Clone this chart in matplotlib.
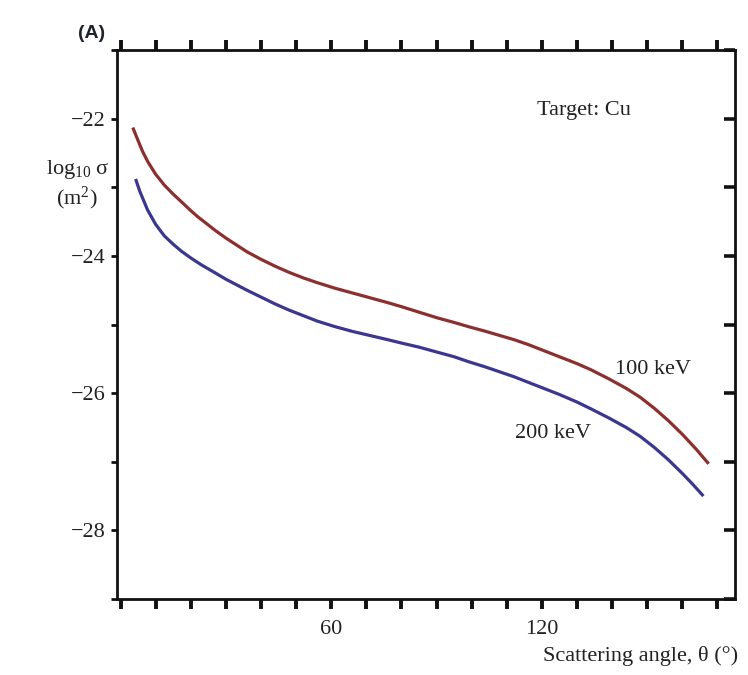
import matplotlib
matplotlib.use("Agg")
import matplotlib.pyplot as plt
from matplotlib.ticker import MultipleLocator, FixedLocator

plt.rcParams['font.family'] = ['Liberation Serif', 'DejaVu Serif']
plt.rcParams['mathtext.fontset'] = 'custom'
plt.rcParams['mathtext.rm'] = 'Liberation Serif'
plt.rcParams['mathtext.it'] = 'Liberation Serif:italic'

# Data (scattering angle in degrees, log10 sigma in m^2)
theta_100 = [3.5, 5.0, 6.3, 7.8, 10, 12.5, 15, 17.3, 20, 22, 25, 27, 30, 33, 36, 40, 44, 48,
             52, 56, 61, 66, 71, 76, 80, 85, 90, 95, 99, 104, 108, 112, 116, 120, 125,
             130, 134, 139, 144, 148, 152, 156, 160, 164, 167.5]
log_sigma_100 = [-22.13, -22.32, -22.48, -22.63, -22.81, -22.97, -23.10, -23.21, -23.34,
                 -23.43, -23.55, -23.63, -23.74, -23.84, -23.94, -24.05, -24.15, -24.24,
                 -24.32, -24.39, -24.47, -24.54, -24.61, -24.68, -24.74, -24.82, -24.90,
                 -24.97, -25.03, -25.10, -25.16, -25.22, -25.29, -25.37, -25.47, -25.57,
                 -25.66, -25.79, -25.93, -26.06, -26.22, -26.40, -26.60, -26.82, -27.03]
theta_200 = [4.3, 5.5, 7.7, 10, 12.5, 15, 17.3, 20, 23, 26.7, 30, 33, 36, 40, 44, 48, 52,
             56, 61, 66, 71, 76, 80, 85, 90, 95, 99, 104, 108, 112, 116, 120, 125, 130,
             134, 139, 144, 148, 152, 156, 160, 163, 166]
log_sigma_200 = [-22.88, -23.06, -23.33, -23.54, -23.71, -23.83, -23.93, -24.03, -24.13,
                 -24.24, -24.34, -24.42, -24.50, -24.60, -24.70, -24.79, -24.87, -24.95,
                 -25.03, -25.10, -25.16, -25.22, -25.27, -25.33, -25.40, -25.47, -25.54,
                 -25.62, -25.69, -25.76, -25.84, -25.92, -26.02, -26.13, -26.23, -26.36,
                 -26.50, -26.63, -26.79, -26.97, -27.17, -27.33, -27.50]
x_ticks_labeled = [60, 120]
y_ticks_labeled = [-22, -24, -26, -28]
y_tick_labels = ['\u221222', '\u221224', '\u221226', '\u221228']

W, H = 748, 675
fig = plt.figure(figsize=(W / 100, H / 100), dpi=100)

def fx(px):
    return px / W

def fy(py):
    return 1 - py / H

ax = fig.add_axes([fx(117), fy(599), fx(735) - fx(117), fy(50) - fy(599)])

red = '#8b2f2f'
blue = '#3b3791'
ax.plot(theta_100, log_sigma_100, color=red, lw=2.3, solid_capstyle='butt',
        solid_joinstyle='round')
ax.plot(theta_200, log_sigma_200, color=blue, lw=2.3, solid_capstyle='butt',
        solid_joinstyle='round')

ax.set_xlim(-1, 175)
ax.set_ylim(-29, -21)

for s in ax.spines.values():
    s.set_linewidth(2.0)
    s.set_color('#111111')

# bottom/top ticks every 10 degrees
ax.xaxis.set_major_locator(FixedLocator(x_ticks_labeled))
ax.xaxis.set_minor_locator(MultipleLocator(10))
ax.tick_params(axis='x', which='both', direction='out', top=True, bottom=True,
               length=7, width=2.8, color='#111111')
ax.tick_params(axis='x', which='major', labelsize=16, pad=8, labelcolor='#222222')

ax.yaxis.set_major_locator(FixedLocator(y_ticks_labeled))
ax.yaxis.set_minor_locator(MultipleLocator(1))
ax.tick_params(axis='y', which='both', left=True, right=False, direction='out',
               length=4, width=2.0, color='#111111')
ax.tick_params(axis='y', which='major', labelsize=16, pad=4, labelcolor='#222222')
ax.set_yticklabels(y_tick_labels)

# right side inward ticks
ax2 = ax.twinx()
ax2.set_ylim(ax.get_ylim())
ax2.yaxis.set_major_locator(MultipleLocator(1))
ax2.tick_params(axis='y', which='both', direction='in', length=8, width=2.6,
                color='#111111', labelright=False)
for s in ax2.spines.values():
    s.set_visible(False)

# Annotations
fig.text(fx(584), fy(110), 'Target: Cu', fontsize=16, ha='center', va='center', color='#222222')
fig.text(fx(653), fy(370), '100 keV', fontsize=16, ha='center', va='center', color='#222222')
fig.text(fx(553), fy(433), '200 keV', fontsize=16, ha='center', va='center', color='#222222')
fig.text(fx(738), fy(656), 'Scattering angle, \u03b8 (\u00b0)', fontsize=16, ha='right',
         va='center', color='#222222')
fig.text(fx(77), fy(170), 'log$_{10}$\u2009\u03c3', fontsize=16,
         ha='center', va='center', color='#222222')
fig.text(fx(77), fy(198), r'(m$^2$)', fontsize=16, ha='center', va='center', color='#222222')
fig.text(fx(92), fy(33), '(A)', fontsize=14, fontweight='bold', family='Liberation Sans',
         ha='center', va='center', color='#1e2230')

fig.savefig('out.png', dpi=100)
